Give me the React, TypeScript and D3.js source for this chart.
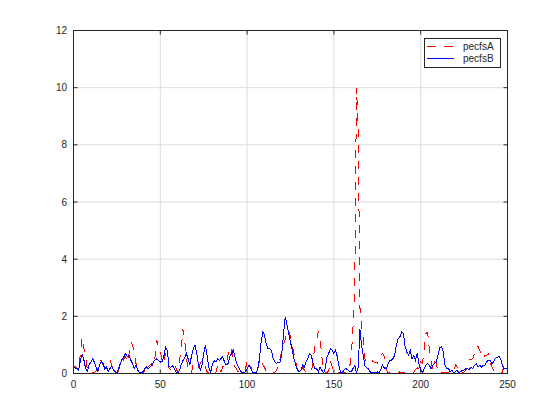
import React from 'react';
import * as d3 from 'd3';

const xTicks = [0, 50, 100, 150, 200, 250];
const yTicks = [0, 2, 4, 6, 8, 10, 12];
const seriesNames = ['pecfsA', 'pecfsB'];

const pecfsA = [
  0.2, 0.25, 0.15, 0.1, 0.75, 1.26, 0.87, 0.7, 0.12, 0.06,
  0.05, 0.03, 0.03, 0.1, 0.2, 0.45, 0.45, 0.3, 0.25, 0.28,
  0.35, 0.47, 0.3, 0.12, 0.04, 0.03, 0.1, 0.4, 0.35, 0.52,
  0.6, 0.4, 0.7, 1.1, 1.0, 0.7, 0.35, 0.15, 0.05, 0.03,
  0.03, 0.1, 0.35, 0.23, 0.3, 0.35, 0.25, 0.6, 1.17, 0.9,
  0.82, 0.4, 0.35, 0.7, 0.5, 0.2, 0.12, 0.28, 0.3, 0.2,
  0.05, 0.45, 0.82, 1.55, 1.15, 0.6, 0.05, 0.03, 0.05, 0.35,
  0.28, 0.3, 0.23, 0.35, 0.47, 0.4, 0.23, 0.05, 0.03, 0.03,
  0.12, 0.05, 0.03, 0.29, 0.3, 0.06, 0.23, 0.25, 0.3, 0.64,
  0.93, 0.82, 0.52, 0.23, 0.15, 0.05, 0.03, 0.03, 0.05, 0.12,
  0.45, 0.4, 0.3, 0.05, 0.03, 0.03, 0.1, 0.4, 0.55, 0.3,
  0.23, 0.06, 0.03, 0.03, 0.03, 0.03, 0.05, 0.1, 0.3, 0.52,
  0.82, 1.0, 1.2, 1.45, 1.5, 1.3, 1.0, 0.7, 0.45, 0.1,
  0.03, 0.05, 0.23, 0.12, 0.03, 0.03, 0.03, 0.05, 0.4, 1.0,
  1.15, 1.46, 1.3, 0.6, 0.12, 0.03, 0.03, 0.1, 0.45, 0.25,
  0.03, 0.03, 0.03, 0.03, 0.03, 0.03, 0.03, 0.03, 0.05, 0.2,
  0.6, 1.6, 3.0, 10.0, 8.6, 2.3, 1.6, 1.2, 0.45, 0.45,
  0.5, 0.5, 0.45, 0.4, 0.4, 0.35, 0.45, 0.6, 0.7, 0.6,
  0.2, 0.03, 0.03, 0.03, 0.05, 0.03, 0.03, 0.03, 0.06, 0.03,
  0.03, 0.05, 0.03, 0.03, 0.03, 0.03, 0.03, 0.15, 0.2, 0.15,
  0.4, 0.35, 0.82, 1.4, 1.45, 0.82, 0.4, 0.12, 0.4, 0.35,
  0.03, 0.03, 0.03, 0.03, 0.03, 0.03, 0.03, 0.03, 0.03, 0.03,
  0.3, 0.23, 0.03, 0.03, 0.03, 0.06, 0.12, 0.23, 0.47, 0.5,
  0.52, 0.7, 0.87, 0.95, 0.8, 0.7, 0.52, 0.64, 0.64, 0.7,
  0.4, 0.23, 0.12, 0.12, 0.12, 0.06, 0.03, 0.03, 0.29, 0.29,
  0.29,
];

const pecfsB = [
  0.23, 0.18, 0.17, 0.12, 0.47, 0.66, 0.47, 0.17, 0.08, 0.3,
  0.4, 0.52, 0.4, 0.23, 0.06, 0.3, 0.4, 0.35, 0.17, 0.23,
  0.06, 0.17, 0.25, 0.12, 0.06, 0.02, 0.17, 0.35, 0.5, 0.58,
  0.7, 0.58, 0.64, 0.47, 0.35, 0.17, 0.29, 0.12, 0.02, 0.02,
  0.06, 0.17, 0.23, 0.17, 0.23, 0.29, 0.4, 0.47, 0.52, 0.45,
  0.4, 0.42, 0.58, 0.93, 0.82, 0.25, 0.22, 0.28, 0.18, 0.06,
  0.02, 0.1, 0.3, 0.45, 0.52, 0.7, 0.52, 0.3, 0.62, 0.87,
  1.0, 0.7, 0.3, 0.12, 0.3, 0.7, 1.0, 0.62, 0.2, 0.05,
  0.3, 0.45, 0.4, 0.52, 0.45, 0.52, 0.58, 0.4, 0.3, 0.35,
  0.58, 0.7, 0.82, 0.58, 0.35, 0.23, 0.12, 0.02, 0.02, 0.06,
  0.17, 0.29, 0.2, 0.06, 0.02, 0.02, 0.12, 0.47, 1.05, 1.45,
  1.35, 1.05, 0.87, 0.87, 0.82, 0.52, 0.4, 0.35, 0.4, 0.4,
  0.7, 1.4, 1.98, 1.69, 1.4, 1.1, 0.82, 0.52, 0.3, 0.12,
  0.06, 0.12, 0.29, 0.23, 0.4, 0.52, 0.7, 0.64, 0.35, 0.17,
  0.17, 0.06, 0.23, 0.12, 0.02, 0.17, 0.58, 0.7, 0.87, 0.82,
  0.7, 0.82, 0.58, 0.23, 0.02, 0.05, 0.14, 0.17, 0.12, 0.06,
  0.06, 0.17, 0.29, 0.02, 0.23, 1.55, 0.95, 0.6, 0.25, 0.2,
  0.15, 0.05, 0.02, 0.02, 0.02, 0.06, 0.02, 0.15, 0.3, 0.2,
  0.15, 0.3, 0.45, 0.45, 0.52, 0.64, 1.0, 1.22, 1.28, 1.45,
  1.4, 0.95, 0.75, 0.64, 0.82, 0.52, 0.64, 0.47, 0.7, 0.35,
  0.12, 0.02, 0.17, 0.29, 0.35, 0.29, 0.17, 0.29, 0.35, 0.4,
  0.64, 0.9, 0.93, 0.75, 0.3, 0.17, 0.17, 0.06, 0.12, 0.02,
  0.06, 0.12, 0.02, 0.06, 0.12, 0.12, 0.17, 0.17, 0.14, 0.23,
  0.17, 0.29, 0.35, 0.23, 0.29, 0.23, 0.29, 0.29, 0.4, 0.47,
  0.47, 0.35, 0.4, 0.52, 0.56, 0.6, 0.52, 0.29, 0.17, 0.17,
  0.17,
];

const FONT = '"Liberation Sans", Arial, Helvetica, sans-serif';
const AX = '#262626';

export default function App() {
  const W = 560;
  const H = 420;
  const left = 73.5, right = 507.5, top = 30.5, bottom = 373.5;
  const x = d3.scaleLinear().domain([0, 250]).range([left, right]);
  const y = d3.scaleLinear().domain([0, 12]).range([bottom, top]);
  const line = d3.line<number>().x((_, i) => x(i)).y((d) => y(d));
  const tick = 4;

  return (
    <svg width={W} height={H} style={{ position: 'absolute', left: 0, top: 0, background: '#fff' }}>
      <rect x={0} y={0} width={W} height={H} fill="#fff" />
      {xTicks.slice(1, -1).map((t) => (
        <line key={'gx' + t} x1={x(t)} x2={x(t)} y1={top} y2={bottom} stroke="#dcdcdc" strokeWidth={1} />
      ))}
      {yTicks.slice(1, -1).map((t) => (
        <line key={'gy' + t} x1={left} x2={right} y1={y(t)} y2={y(t)} stroke="#dcdcdc" strokeWidth={1} />
      ))}
      <path d={line(pecfsA) || ''} fill="none" stroke="#ff0000" strokeWidth={1} strokeDasharray="8,8" shapeRendering="crispEdges" />
      <path d={line(pecfsB) || ''} fill="none" stroke="#0000ff" strokeWidth={1} shapeRendering="crispEdges" />
      <rect x={left} y={top} width={right - left} height={bottom - top} fill="none" stroke={AX} strokeWidth={1} />
      {xTicks.map((t) => (
        <g key={'tx' + t}>
          <line x1={x(t)} x2={x(t)} y1={bottom} y2={bottom - tick} stroke={AX} />
          <line x1={x(t)} x2={x(t)} y1={top} y2={top + tick} stroke={AX} />
          <text x={x(t)} y={387.5} textAnchor="middle" fontFamily={FONT} fontSize={10} fill={AX}>
            {t}
          </text>
        </g>
      ))}
      {yTicks.map((t) => (
        <g key={'ty' + t}>
          <line x1={left} x2={left + tick} y1={y(t)} y2={y(t)} stroke={AX} />
          <line x1={right} x2={right - tick} y1={y(t)} y2={y(t)} stroke={AX} />
          <text x={67} y={y(t) + 3.5} textAnchor="end" fontFamily={FONT} fontSize={10} fill={AX}>
            {t}
          </text>
        </g>
      ))}
      <rect x={424.5} y={38.5} width={76} height={29} fill="#fff" stroke={AX} strokeWidth={1} />
      <line x1={427} x2={454} y1={46.5} y2={46.5} stroke="#ff0000" strokeDasharray="9,8" />
      <line x1={427} x2={454} y1={58.5} y2={58.5} stroke="#0000ff" />
      <text x={463} y={50} fontFamily={FONT} fontSize={10} fill={AX}>{seriesNames[0]}</text>
      <text x={463} y={62} fontFamily={FONT} fontSize={10} fill={AX}>{seriesNames[1]}</text>
    </svg>
  );
}
